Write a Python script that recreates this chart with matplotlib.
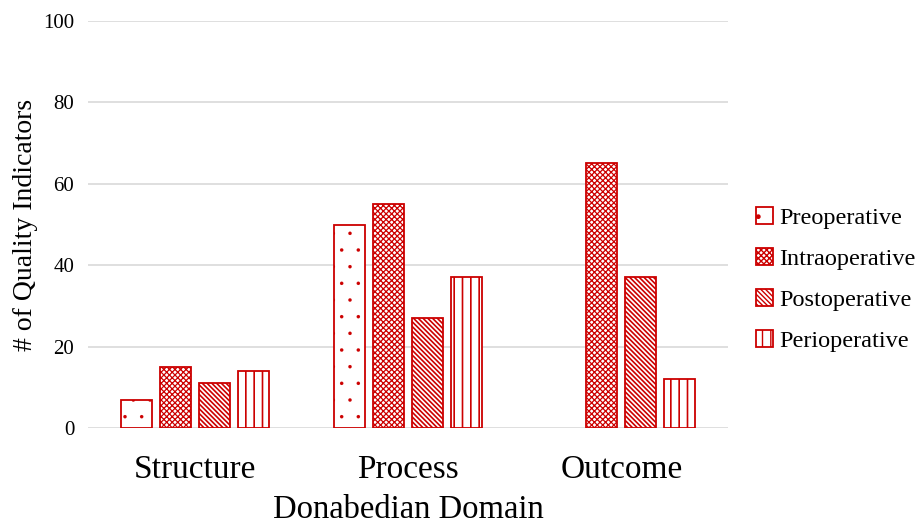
import matplotlib
matplotlib.use("Agg")
import matplotlib.pyplot as plt
import numpy as np

categories = ["Structure", "Process", "Outcome"]
series = ["Preoperative", "Intraoperative", "Postoperative", "Perioperative"]
preoperative = [7, 50, 0]
intraoperative = [15, 55, 65]
postoperative = [11, 27, 37]
perioperative = [14, 37, 12]
values = [preoperative, intraoperative, postoperative, perioperative]
hatches = [".", "xxxxxx", "\\\\\\\\\\\\\\", "||"]
hatch_lws = [0.1, 0.9, 1.2, 1.2]

plt.rcParams['font.family'] = ['Liberation Serif', 'DejaVu Serif']
plt.rcParams['hatch.color'] = '#CC0000'
plt.rcParams['hatch.linewidth'] = 1.0

fig = plt.figure(figsize=(9.18, 5.24), dpi=100)
ax = fig.add_axes([0.096, 0.183, 0.697, 0.777])

red = '#CC0000'
x = np.arange(len(categories))
width = 0.146
pitch = 0.183
for i, (name, vals, h, hl) in enumerate(zip(series, values, hatches, hatch_lws)):
    off = (i - 1.5) * pitch
    v = np.array(vals, dtype=float)
    mask = v > 0
    bars = ax.bar(x[mask] + off, v[mask], width=width, facecolor='white', edgecolor=red,
                  hatch=h, linewidth=1.3, label=name, zorder=3)
    for b in bars:
        try:
            b.set_hatch_linewidth(hl)
        except Exception:
            pass

ax.set_xlim(-0.5, 2.5)
ax.set_ylim(0, 100)
ax.set_yticks(range(0, 101, 20))
ax.yaxis.grid(True, color='#D9D9D9', linewidth=1.2, zorder=0)
ax.set_axisbelow(True)
for s in ax.spines.values():
    s.set_visible(False)
ax.tick_params(length=0)
ax.tick_params(axis='y', labelsize=15, pad=10)
ax.set_xticks(x)
ax.set_xticklabels(categories, fontsize=24)
ax.tick_params(axis='x', pad=19)
ax.set_xlabel("Donabedian Domain", fontsize=23.5, labelpad=7)
ax.set_ylabel("# of Quality Indicators", fontsize=20, labelpad=4)

leg = fig.legend(loc='center left', bbox_to_anchor=(0.824, 0.466), frameon=False,
                 fontsize=17.5, handlelength=0.7, handleheight=0.7, handletextpad=0.25,
                 labelspacing=0.78, borderaxespad=0, borderpad=0)

fig.savefig("out.png", dpi=100)
